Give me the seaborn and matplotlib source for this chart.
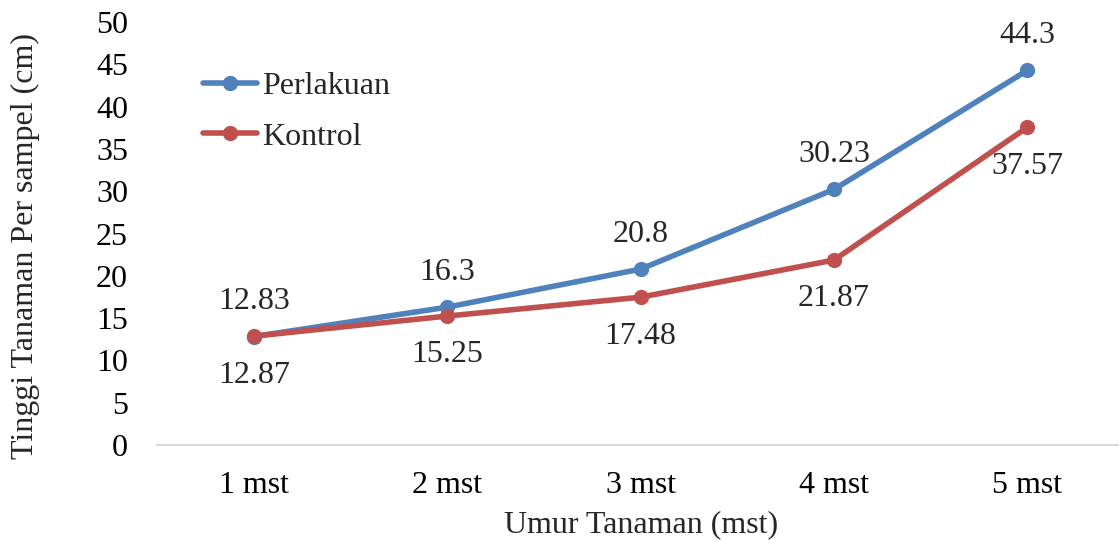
import matplotlib
matplotlib.use("Agg")
import matplotlib.pyplot as plt
import seaborn as sns
import pandas as pd

# Plant height per sample by week after planting
weeks = ["1 mst", "2 mst", "3 mst", "4 mst", "5 mst"]
perlakuan = [12.83, 16.3, 20.8, 30.23, 44.3]
kontrol = [12.87, 15.25, 17.48, 21.87, 37.57]
label_perlakuan = ["12.83", "16.3", "20.8", "30.23", "44.3"]
label_kontrol = ["12.87", "15.25", "17.48", "21.87", "37.57"]

sns.set_theme(style="white")
plt.rcParams["font.family"] = ["Liberation Serif", "DejaVu Serif"]

FS = 23
LW = 4.0
MS = 11

df = pd.DataFrame({
    "pos": list(range(len(weeks))) * 2,
    "tinggi": perlakuan + kontrol,
    "seri": ["Perlakuan"] * len(weeks) + ["Kontrol"] * len(weeks),
})

palette = {"Perlakuan": "#4F81BD", "Kontrol": "#C0504D"}

fig = plt.figure(figsize=(11.19, 5.42), dpi=100)
ax = fig.add_axes([0.1405, 0.179, 0.864, 0.780])

sns.lineplot(data=df, x="pos", y="tinggi", hue="seri", palette=palette,
             marker="o", markersize=MS, markeredgewidth=0, linewidth=LW,
             ax=ax, legend=False)

ax.set_xlim(-0.5, len(weeks) - 0.5)
ax.set_ylim(0, 50)
ax.set_xticks(range(len(weeks)))
ax.set_xticklabels(weeks)
ax.set_yticks(range(0, 51, 5))
ax.tick_params(axis="both", labelsize=FS, length=0, colors="black")
ax.tick_params(axis="x", pad=19)
ax.tick_params(axis="y", pad=21)

for side in ["top", "right", "left"]:
    ax.spines[side].set_visible(False)
ax.spines["bottom"].set_color("#D9D9D9")
ax.spines["bottom"].set_linewidth(1.5)

ax.set_xlabel("Umur Tanaman (mst)", fontsize=FS, va="center")
ax.xaxis.set_label_coords(0.5, -0.188)
ax.set_ylabel("Tinggi Tanaman Per sampel (cm)", fontsize=FS, va="center")
ax.yaxis.set_label_coords(-0.136, 0.47)

# Value labels: treatment above its points, control below
for i, (vp, vk) in enumerate(zip(perlakuan, kontrol)):
    ax.annotate(label_perlakuan[i], (i, vp), xytext=(0, 25), textcoords="offset points",
                ha="center", va="center", fontsize=FS)
    ax.annotate(label_kontrol[i], (i, vk), xytext=(0, -28), textcoords="offset points",
                ha="center", va="center", fontsize=FS)

handles = [plt.Line2D([], [], color=palette[s], marker="o", markersize=MS,
                      markeredgewidth=0, linewidth=LW) for s in ["Perlakuan", "Kontrol"]]
ax.legend(handles, ["Perlakuan", "Kontrol"], loc="upper left",
          bbox_to_anchor=(0.047, 0.882), frameon=False, fontsize=FS,
          borderpad=0, borderaxespad=0,
          handlelength=1.7, handletextpad=0.15, labelspacing=0.65)

fig.savefig("out.png", dpi=100)
